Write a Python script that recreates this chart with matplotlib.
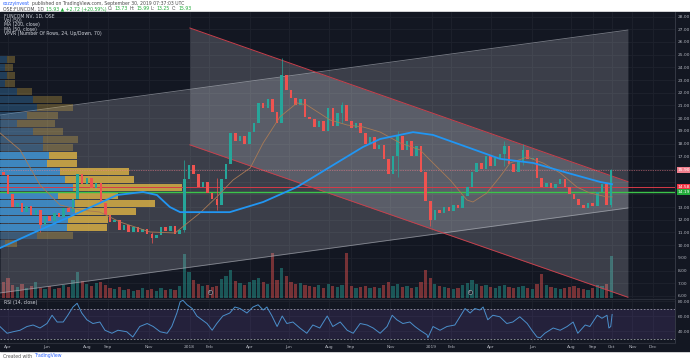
import matplotlib.pyplot as plt
import matplotlib.transforms as mtransforms
import numpy as np
import pandas as pd
from matplotlib.patches import Rectangle
from matplotlib.text import Annotation

plt.rcParams['font.family'] = ['DejaVu Sans']

BG = '#131722'
GRID = '#1e222d'
TXT = '#b2b5be'
UP = '#26a69a'
DN = '#ef5350'

# %%
# values, one step per week (week 0 = 3 Apr 2017)

closes = [15.5, 14.0, 13.0, 13.3, 12.6, 13.1, 12.4, 12.8, 11.6, 12.3, 11.9,
          12.5, 12.2, 12.9, 12.6, 13.6, 15.6, 14.8, 15.3, 14.5, 14.9,
          13.3, 12.4, 11.8, 12.0, 11.2, 11.6, 11.0, 11.4, 11.0, 11.3,
          10.9, 10.6, 10.8, 11.4, 11.1, 11.5, 10.9, 11.2, 15.2, 16.3,
          15.6, 14.6, 15.0, 14.1, 13.6, 13.2, 15.2, 16.4, 18.8, 18.2,
          18.6, 18.0, 18.9, 19.6, 21.2, 20.8, 21.5, 20.5, 19.6, 23.4,
          22.2, 21.6, 21.0, 21.5, 20.1, 19.9, 19.3, 19.8, 19.0, 20.8,
          19.4, 20.4, 21.0, 19.8, 19.2, 19.6, 18.8, 18.0, 18.5, 17.6,
          17.9, 16.8, 15.6, 17.0, 18.6, 17.5, 18.2, 17.0, 17.8, 15.8,
          13.5, 12.0, 12.8, 12.5, 13.0, 12.7, 13.2, 12.9, 13.9, 14.6,
          15.8, 16.5, 16.0, 17.0, 16.2, 16.9, 17.2, 17.8, 16.4, 15.8,
          16.6, 17.5, 16.8, 16.9, 15.3, 14.6, 14.9, 14.5, 14.8, 15.2,
          14.6, 14.0, 13.6, 13.2, 12.9, 13.3, 13.1, 14.2, 14.8, 13.2,
          15.9]
first_open = 15.8

volumes = [1.6, 2.0, 1.3, 1.1, 1.4, 1.0, 1.2, 1.6, 1.0, 0.9, 1.2,
           0.9, 1.0, 1.3, 1.1, 1.8, 2.6, 1.7, 1.4, 1.2, 1.5,
           1.6, 1.3, 1.0, 0.9, 1.1, 0.8, 0.9, 0.7, 0.8, 1.0,
           0.8, 0.9, 0.7, 1.0, 0.8, 0.9, 0.8, 1.2, 4.4, 2.6,
           1.8, 1.4, 1.2, 1.3, 1.1, 1.2, 1.9, 2.2, 2.8, 1.7,
           1.5, 1.3, 1.6, 1.8, 2.0, 1.6, 1.4, 4.5, 1.8, 3.0,
           2.2, 1.6, 1.4, 1.5, 1.3, 1.2, 1.1, 1.3, 1.0, 1.4,
           1.2, 1.1, 1.3, 4.5, 1.2, 1.0, 1.1, 1.2, 1.0, 1.1,
           1.0, 1.3, 1.6, 1.2, 1.4, 1.1, 1.2, 1.0, 1.1, 1.6,
           2.8, 2.0, 1.4, 1.2, 1.1, 1.0, 0.9, 1.0, 1.3, 1.5,
           1.8, 1.4, 1.2, 1.3, 1.1, 1.0, 1.2, 1.3, 1.1, 1.0,
           1.1, 1.2, 1.0, 0.9, 1.4, 2.4, 1.3, 1.1, 1.0, 0.9,
           1.0, 1.1, 1.2, 1.0, 0.9, 0.8, 1.0, 1.3, 1.2, 1.4,
           4.2]

# a few long wicks worth showing
wick_weeks = [7, 31, 38, 45, 59, 72, 84, 91, 107, 111, 130]
wick_high = [12.4, 11.0, 16.7, 15.3, 24.7, 21.3, 19.0, 13.2, 18.2, 18.0, 16.0]
wick_low = [11.0, 10.2, 11.0, 12.8, 20.2, 19.6, 15.4, 11.5, 16.2, 16.3, 13.0]

ma200_w = [-1.7, 5.4, 12.7, 19.8, 23.5, 29.1, 32.1, 34.9, 37.1, 41.4, 47.8,
           55.0, 62.3, 69.4, 76.5, 80.2, 87.3, 91.6, 98.9, 106.0, 113.2,
           120.5, 127.6, 130.2]
ma200 = [9.78, 10.96, 12.14, 13.32, 13.95, 14.19, 13.95, 13.0, 12.6, 12.6,
         12.6, 13.4, 14.58, 16.16, 17.73, 18.36, 18.9, 18.68, 17.73, 16.8,
         16.47, 15.7, 14.98, 14.8]

ma50_w = [-1.7, 2.6, 6.9, 11.2, 15.5, 19.8, 24.1, 30.6, 36.0, 41.4, 45.0,
          48.5, 52.2, 55.0, 58.6, 62.3, 64.4, 69.4, 73.1, 76.5, 80.2, 84.5,
          88.8, 91.6, 95.3, 98.9, 100.2, 103.2, 106.0, 108.2, 111.9, 115.3,
          119.0, 122.6, 125.4, 129.1, 130.2]
ma50 = [18.83, 17.5, 14.74, 13.17, 12.77, 12.61, 11.83, 11.04, 10.96, 12.54,
        13.8, 15.13, 16.08, 18.05, 20.1, 21.2, 21.04, 19.86, 19.46, 19.31,
        18.91, 18.05, 17.5, 16.47, 15.13, 13.56, 13.4, 14.11, 15.37, 16.47,
        16.94, 16.47, 15.69, 14.58, 14.11, 13.8, 13.8]

rsi_w = [-1.7, -0.2, 1.1, 2.6, 4.1, 5.4, 6.9, 8.4, 9.5, 10.6,
         11.9, 12.9, 14.0, 14.9, 15.9, 17.0, 18.3, 19.8, 20.9, 22.4,
         23.7, 25.6, 26.9, 28.4, 30.0, 31.3, 32.8, 34.3, 35.3, 36.4,
         37.1, 37.7, 38.6, 39.7, 40.7, 41.8, 42.9, 44.0, 45.0, 46.3,
         47.8, 48.9, 50.0, 51.5, 52.8, 53.9, 55.0, 55.8, 56.9, 58.0,
         59.1, 60.1, 61.4, 62.9, 64.4, 65.7, 67.2, 68.8, 70.0, 71.6,
         73.1, 74.4, 75.9, 77.4, 78.7, 80.2, 81.7, 82.8, 83.8, 85.1,
         86.6, 87.7, 88.8, 90.3, 90.5, 91.6, 93.1, 94.6, 96.3, 97.4,
         98.5, 99.6, 100.6, 101.7, 102.4, 103.4, 104.5, 106.0, 107.5, 108.8,
         110.3, 111.9, 112.9, 114.0, 114.7, 115.7, 117.5, 119.0, 120.5, 121.8,
         122.8, 124.4, 125.4, 127.0, 128.0, 129.1, 129.5, 129.9, 130.2]
rsi = [45.8, 37, 39, 41, 46, 48, 44, 50, 61, 52,
       52, 61, 72, 77, 64, 55, 50, 52, 41, 37,
       41, 39, 32, 46, 50, 46, 39, 37, 46, 64,
       79, 81, 75, 70, 60, 55, 50, 41, 50, 60,
       64, 72, 70, 64, 72, 75, 68, 72, 60, 46,
       60, 50, 52, 44, 37, 48, 44, 60, 46, 52,
       41, 37, 50, 48, 44, 37, 46, 61, 55, 50,
       52, 46, 41, 35, 31, 46, 41, 46, 48, 59,
       70, 64, 70, 68, 72, 55, 61, 59, 50, 52,
       59, 50, 41, 32, 31, 37, 44, 41, 46, 52,
       37, 48, 46, 61, 57, 61, 44, 46, 62]

# volume profile, 24 rows, bottom row first
vp_low, vp_high = 9.86, 24.98
vp_up = [5, 37, 67, 68, 75, 75, 58, 73, 65, 60, 47, 49,
         43, 43, 33, 17, 27, 37, 33, 17, 5, 7, 5, 7]
vp_down = [12, 36, 40, 40, 62, 81, 60, 110, 70, 70, 30, 28,
           30, 35, 30, 38, 31, 36, 29, 15, 10, 8, 8, 8]
value_area = (2, 11)

# drawings
desc_w = [39.2, 133.6]
desc_top = [27.1, 15.0]
desc_bot = [17.9, 5.9]
asc_w = [-1.7, 133.6]
asc_top = [20.25, 26.94]
asc_bot = [6.24, 12.93]
red_level = 14.58
green_level = 14.19
earnings_w = [43.5, 99.6]

start = pd.Timestamp('2017-04-03')
tick_dates = ['2017-04-03', '2017-06-01', '2017-08-01', '2017-09-01',
              '2017-11-01', '2018-01-02', '2018-02-01', '2018-04-03',
              '2018-06-01', '2018-08-01', '2018-09-03', '2018-11-01',
              '2019-01-02', '2019-02-01', '2019-04-01', '2019-06-03',
              '2019-08-01', '2019-09-02', '2019-10-01', '2019-11-01',
              '2019-12-02']
tick_labels = ['Apr', 'Jun', 'Aug', 'Sep', 'Nov', '2018', 'Feb', 'Apr',
               'Jun', 'Aug', 'Sep', 'Nov', '2019', 'Feb', 'Apr', 'Jun',
               'Aug', 'Sep', 'Oct', 'Nov', 'Dec']
tick_w = [(pd.Timestamp(d) - start).days / 7 for d in tick_dates]

# %%
weeks = np.arange(len(closes)) - 1
closes = np.array(closes)
opens = np.concatenate([[first_open], closes[:-1]])
up = closes >= opens
ccol = np.where(up, UP, DN)

W, H = 690, 360


def frect(x0, y0, x1, y1):
    return [x0 / W, 1 - y1 / H, (x1 - x0) / W, (y1 - y0) / H]


fig = plt.figure(figsize=(6.9, 3.6), dpi=100, facecolor='white')
fig.patches.append(Rectangle((0, 1 - 351 / H), 1, 339 / H,
                             transform=fig.transFigure, color=BG, zorder=-5))
ax = fig.add_axes(frect(0, 12, 675, 298))
ax_rsi = fig.add_axes(frect(0, 299, 675, 343), sharex=ax)

for a in (ax, ax_rsi):
    a.set_facecolor(BG)
    for s in a.spines.values():
        s.set_visible(False)
    a.spines['right'].set_visible(True)
    a.spines['right'].set_color('#3a3e4a')
    a.spines['right'].set_linewidth(0.6)
    a.yaxis.tick_right()
    a.tick_params(length=0, labelsize=3.2, labelcolor=TXT, pad=2)
    a.grid(color=GRID, lw=0.6)
    a.set_axisbelow(True)
ax_rsi.spines['top'].set_visible(True)
ax_rsi.spines['top'].set_color('#2a2e39')
ax_rsi.spines['bottom'].set_visible(True)
ax_rsi.spines['bottom'].set_color('#2a2e39')

# volume underneath everything
vol_tr = mtransforms.blended_transform_factory(
    ax.transData, mtransforms.Affine2D().scale(1, 1 / 28.6) + ax.transAxes)
ax.bar(weeks, volumes, width=0.7, color=ccol, alpha=0.45,
       transform=vol_tr, zorder=1)

# channels
ax.fill_between(asc_w, asc_bot, asc_top, color='#d1d4dc', alpha=0.21,
                lw=0, zorder=2)
ax.plot(asc_w, asc_top, color='#a3a6af', lw=0.6, alpha=0.7, zorder=2)
ax.plot(asc_w, asc_bot, color='#a3a6af', lw=0.6, alpha=0.7, zorder=2)
ax.fill_between(desc_w, desc_bot, desc_top, color='#d1d4dc', alpha=0.21,
                lw=0, zorder=2)
ax.plot(desc_w, desc_top, color='#c8404c', lw=0.7, zorder=2)
ax.plot(desc_w, desc_bot, color='#c8404c', lw=0.7, zorder=2)

# volume profile
vp_up = np.array(vp_up)
vp_down = np.array(vp_down)
edges = np.linspace(vp_low, vp_high, len(vp_up) + 1)
row_h = edges[1] - edges[0]
scale = 0.27 / (vp_up + vp_down).max()
vp_tr = mtransforms.blended_transform_factory(ax.transAxes, ax.transData)
rows = np.arange(len(vp_up))
in_va = (rows >= value_area[0]) & (rows <= value_area[1])
for i in rows:
    al = 0.85 if in_va[i] else 0.32
    ax.barh(edges[i], vp_up[i] * scale, height=row_h * 0.88, left=0,
            align='edge', color='#3f93d3', alpha=al, transform=vp_tr, zorder=3)
    ax.barh(edges[i], vp_down[i] * scale, height=row_h * 0.88,
            left=vp_up[i] * scale, align='edge', color='#d6ae45', alpha=al,
            transform=vp_tr, zorder=3)

# levels
ax.axhline(red_level, color='#d63a47', lw=0.7, zorder=4)
ax.axhline(green_level, color='#3cc44a', lw=1.0, zorder=4)
ax.axhline(closes[-1], color='#f07f8d', lw=0.5, ls=(0, (1, 1.5)), zorder=4)

# candles
ax.bar(weeks, closes - opens, bottom=opens, width=0.55, color=ccol, zorder=5)
wcol = [ccol[w + 1] for w in wick_weeks]
ax.vlines(wick_weeks, wick_low, wick_high, colors=wcol, lw=0.5, zorder=5)

ax.plot(ma50_w, ma50, color='#a87a55', lw=0.6, zorder=6)
ax.plot(ma200_w, ma200, color='#2196f3', lw=1.3, zorder=6)

ev_tr = mtransforms.blended_transform_factory(ax.transData, ax.transAxes)
for w in earnings_w:
    ax.scatter([w], [0.02], s=9, facecolor=BG, edgecolor='#9598a1', lw=0.5,
               transform=ev_tr, zorder=7, clip_on=False)
    ax.text(w, 0.02, 'E', fontsize=2.2, color='#b2b5be', ha='center',
            va='center', transform=ev_tr, zorder=8)

# price axis
yt = list(range(6, 29))
ax.set_yticks(yt)
ax.set_yticklabels(['' if p in (14, 15) else f'{p:.2f}' for p in yt])
ax.tick_params(axis='x', labelbottom=False)
lab_tr = mtransforms.blended_transform_factory(ax.transAxes, ax.transData)
for val, fc in [(closes[-1], '#f07f8d'), (red_level, '#f23645'),
                (green_level, '#22ab3a')]:
    ax.text(1.004, val, f'{val:.2f}', transform=lab_tr, fontsize=3.2,
            color='white', va='center', ha='left', clip_on=False, zorder=10,
            bbox=dict(boxstyle='square,pad=0.25', fc=fc, ec='none'))

legend = ['FUNCOM NV, 1D, OSE', 'Vol (50)', 'MA (200, close)',
          'MA (50, close)', 'VPVR (Number Of Rows, 24, Up/Down, 70)']
for k, s in enumerate(legend):
    ax.text(4 / 675, 1 - (16 + 4.35 * k - 12) / 286, s, transform=ax.transAxes,
            fontsize=3.3, color='#d1d4dc', va='center', ha='left', zorder=10)

# RSI
ax_rsi.axhspan(30, 70, color='#7e57c2', alpha=0.16, lw=0)
ax_rsi.axhline(70, color='#9598a1', lw=0.6, ls=(0, (2, 2)))
ax_rsi.axhline(30, color='#9598a1', lw=0.6, ls=(0, (2, 2)))
ax_rsi.plot(rsi_w, rsi, color='#4b8fcb', lw=0.7)
ax_rsi.set_yticks([40, 60, 80])
ax_rsi.set_yticklabels(['40.00', '60.00', '80.00'])
ax_rsi.set_xticks(tick_w)
ax_rsi.set_xticklabels(tick_labels)
ax_rsi.tick_params(axis='x', pad=1.5)
ax_rsi.text(4 / 675, 0.91, 'RSI (14, close)', transform=ax_rsi.transAxes,
            fontsize=3.3, color='#d1d4dc', va='center', ha='left')

ax.set_xlim(-1.72, 143.75)
ax.set_ylim(5.84, 28.36)
ax_rsi.set_ylim(24, 82.7)


# header and footer
def chain(x, y, parts, size):
    prev = fig.text(x, y, parts[0][0], color=parts[0][1], fontsize=size,
                    va='center', ha='left')
    for s, c in parts[1:]:
        prev = fig.add_artist(Annotation(
            s, xy=(1, 0.5), xycoords=prev, xytext=(1.2, 0),
            textcoords='offset points', va='center', ha='left', color=c,
            fontsize=size))


G = '#22ab3a'
D = '#4a4a4a'
chain(3 / W, 1 - 3.5 / H,
      [('cozzyinvest', '#2962ff'),
       ('published on TradingView.com, September 30, 2019 07:37:03 UTC', D)],
      3.3)
chain(3 / W, 1 - 9 / H,
      [('OSE:FUNCOM, 1D', D), ('15.93 \u25b2 +2.72 (+20.59%)', G),
       ('O:', D), ('13.73', G), ('H:', D), ('15.99', G), ('L:', D),
       ('13.25', G), ('C:', D), ('15.93', G)], 3.3)
chain(3 / W, 1 - 356 / H, [('Created with', '#555555'),
                           ('TradingView', '#2962ff')], 3.3)

fig.savefig('out.png', dpi=100, facecolor='white')
